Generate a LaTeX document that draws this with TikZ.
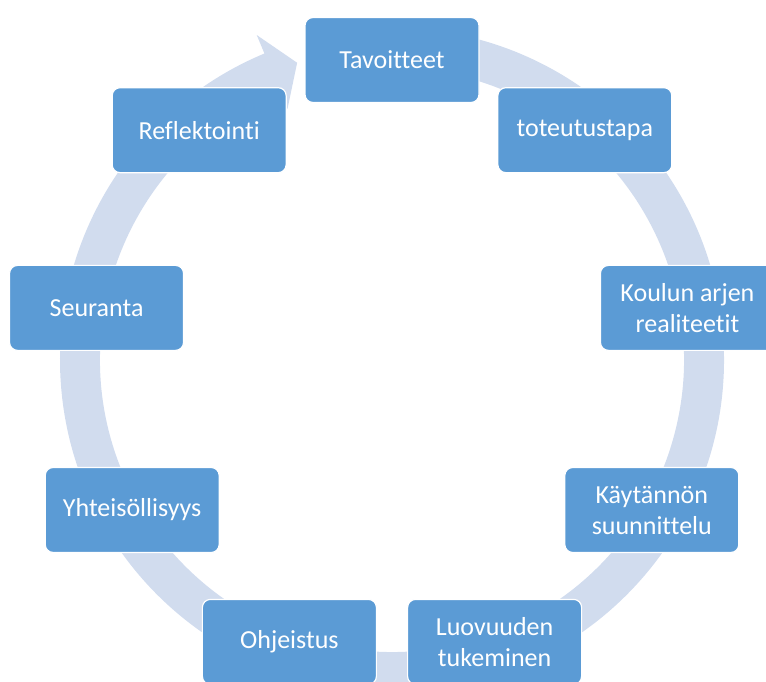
\documentclass[tikz,border=0pt]{standalone}
\usepackage{fontspec}
\setmainfont{Carlito}[Ligatures={NoCommon}]
\definecolor{boxblue}{RGB}{91,155,213}
\definecolor{ringblue}{RGB}{209,220,238}
\tikzset{
  stepbox/.style={draw=white, line width=1.2pt, fill=boxblue, rounded corners=8pt,
    minimum width=174pt, minimum height=85pt, text=white, align=center,
    font=\fontsize{26pt}{31pt}\selectfont, inner sep=2pt},
  ringband/.style={fill=ringblue, draw=none}
}
\begin{document}
\begin{tikzpicture}[x=1pt,y=1pt]
\useasboundingbox (0,0) rectangle (766,682);
\clip (0,0) rectangle (766,682);
\begin{scope}[shift={(392,322)}]
\fill[ringband] (95:332) arc[start angle=95, end angle=-247.4, radius=332]
  -- (-247.4:352) -- (-252.3:312) -- (-247.4:272) -- (-247.4:292)
  arc[start angle=-247.4, end angle=95, radius=292] -- cycle;
\node[stepbox] (n1) at (90:300) {Tavoitteet};
\node[stepbox] (n2) at (50:300) {toteutustapa};
\node[stepbox] (n3) at (10:300) {Koulun arjen\\realiteetit};
\node[stepbox] (n4) at (-30:300) {Käytännön\\suunnittelu};
\node[stepbox] (n5) at (-70:300) {Luovuuden\\tukeminen};
\node[stepbox] (n6) at (-110:300) {Ohjeistus};
\node[stepbox] (n7) at (-150:300) {Yhteisöllisyys};
\node[stepbox] (n8) at (170:300) {Seuranta};
\node[stepbox] (n9) at (130:300) {Reflektointi};
\end{scope}
\end{tikzpicture}
\end{document}
